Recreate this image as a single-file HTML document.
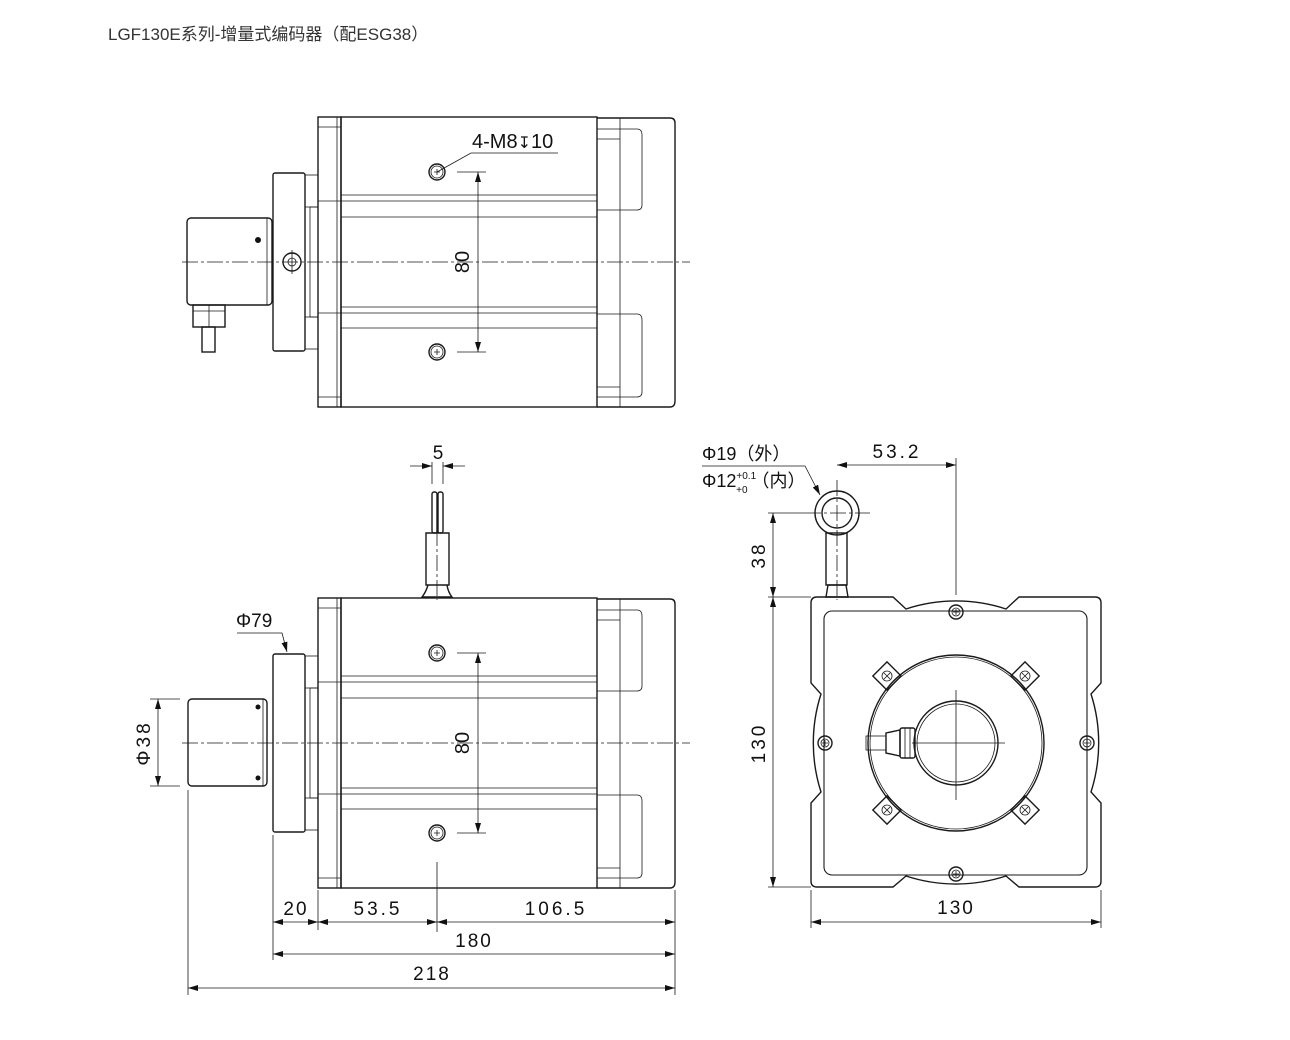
<!DOCTYPE html>
<html><head><meta charset="utf-8"><style>
body{margin:0;background:#fff}
svg{display:block}
text{font-family:"Liberation Sans","Noto Sans CJK SC",sans-serif;fill:#111}
.o{fill:none;stroke:#1a1a1a;stroke-width:1.4}
.t{fill:none;stroke:#1a1a1a;stroke-width:0.8}
.c{fill:none;stroke:#1a1a1a;stroke-width:0.8;stroke-dasharray:16 3 3 3}
</style></head><body>
<svg width="1290" height="1040" viewBox="0 0 1290 1040" xmlns="http://www.w3.org/2000/svg">
<defs>
<marker id="a" viewBox="0 0 10 6" refX="10" refY="3" markerWidth="10" markerHeight="6" orient="auto-start-reverse" markerUnits="userSpaceOnUse"><path d="M0,0 L10,3 L0,6 z" fill="#111"/></marker>
<g id="bolt"><circle class="o" cx="0" cy="0" r="7"/><circle class="t" cx="0" cy="0" r="4"/><path class="t" d="M-3,0h6M0,-3v6"/></g>
<g id="tab"><rect class="o" x="-10" y="-10" width="20" height="20" transform="rotate(45)"/><circle class="t" r="5"/><path class="t" d="M-3,-3l6,6M3,-3l-6,6"/></g>
<g id="body">
 <rect class="o" x="318" y="0" width="23" height="290"/>
 <line class="t" x1="337" y1="0" x2="337" y2="290"/>
 <line class="t" x1="318" y1="10" x2="341" y2="10"/><line class="t" x1="318" y1="280" x2="341" y2="280"/>
 <line class="t" x1="318" y1="84" x2="341" y2="84"/><line class="t" x1="318" y1="196" x2="341" y2="196"/>
 <rect class="o" x="341" y="0" width="256" height="290"/>
 <line class="t" x1="341" y1="78" x2="597" y2="78"/><line class="t" x1="341" y1="84" x2="597" y2="84"/>
 <line class="t" x1="341" y1="100" x2="597" y2="100"/>
 <line class="t" x1="341" y1="190" x2="597" y2="190"/><line class="t" x1="341" y1="196" x2="597" y2="196"/>
 <line class="t" x1="341" y1="211" x2="597" y2="211"/>
 <path class="o" d="M597,1 L670,1 Q675,1 675,6 L675,284 Q675,290 670,290 L597,290"/>
 <line class="t" x1="620" y1="1" x2="620" y2="290"/>
 <path class="t" d="M597,12 L637,12 Q642,12 642,18 L642,88 Q642,93 637,93 L597,93"/>
 <path class="t" d="M597,197 L637,197 Q642,197 642,203 L642,275 Q642,280 637,280 L597,280"/>
 <line class="t" x1="597" y1="22" x2="620" y2="22"/><line class="t" x1="597" y1="270" x2="620" y2="270"/>
 <rect class="o" x="273" y="56" width="32" height="178" rx="2"/>
 <rect class="t" x="305" y="58" width="13" height="32"/>
 <rect class="t" x="305" y="200" width="13" height="32"/>
 <rect class="t" x="310" y="90" width="8" height="110"/>
 <circle class="o" cx="437" cy="55" r="8"/><circle class="t" cx="437" cy="55" r="6"/>
 <circle class="o" cx="437" cy="235" r="8"/><circle class="t" cx="437" cy="235" r="6"/>
 <path class="t" d="M434,55h6M437,52v6M434,235h6M437,232v6"/>
 <line class="t" x1="457" y1="55" x2="486" y2="55"/><line class="t" x1="457" y1="235" x2="486" y2="235"/>
 <line class="t" x1="478" y1="55" x2="478" y2="235" marker-start="url(#a)" marker-end="url(#a)"/>
 <text x="0" y="0" font-size="20" text-anchor="middle" transform="translate(469,145) rotate(-90)">80</text>
</g>
</defs>

<text x="108" y="40" font-size="17" style="fill:#333">LGF130E系列-增量式编码器（配ESG38）</text>

<use href="#body" transform="translate(0,117)"/>
<rect class="o" x="187" y="218" width="85" height="87" rx="4"/>
<line class="t" x1="267" y1="218" x2="267" y2="305"/>
<circle cx="258" cy="240" r="3" fill="#111"/>
<rect class="o" x="193" y="305" width="32" height="22"/>
<line class="t" x1="193" y1="311" x2="225" y2="311"/><line class="t" x1="209" y1="305" x2="209" y2="327"/>
<rect class="o" x="202" y="327" width="13" height="25"/>
<circle class="o" cx="292" cy="262" r="9"/><circle class="t" cx="292" cy="262" r="4"/>
<line class="t" x1="292" y1="250" x2="292" y2="274"/>
<line class="c" x1="182" y1="262" x2="690" y2="262"/>
<text x="472" y="148" font-size="20">4-M8<tspan font-size="16">↧</tspan>10</text>
<polyline class="t" points="437,172 471,153 558,153"/>

<use href="#body" transform="translate(0,598)"/>
<rect class="o" x="188" y="699" width="79" height="87" rx="4"/>
<line class="t" x1="263" y1="699" x2="263" y2="786"/>
<circle cx="258" cy="707" r="2.5" fill="#111"/><circle cx="258" cy="778" r="2.5" fill="#111"/>
<line class="c" x1="182" y1="743" x2="690" y2="743"/>
<path class="o" d="M426,533 L449,533 L449,585 L426,585 Z"/>
<path class="o" d="M428,585 Q426,592 422,597 L452,597 Q448,592 447,585"/>
<rect class="o" x="432" y="492" width="5" height="41" rx="2"/>
<rect class="o" x="438" y="492" width="5" height="41" rx="2"/>
<line class="c" x1="437" y1="530" x2="437" y2="600"/>
<line class="t" x1="432" y1="462" x2="432" y2="484"/><line class="t" x1="443" y1="462" x2="443" y2="484"/>
<line class="t" x1="410" y1="466" x2="432" y2="466" marker-end="url(#a)"/>
<line class="t" x1="465" y1="466" x2="443" y2="466" marker-end="url(#a)"/>
<text x="438" y="459" font-size="19" text-anchor="middle">5</text>
<text x="236" y="627" font-size="19">Φ79</text>
<polyline class="t" points="237,633 282,633 287,652" marker-end="url(#a)"/>
<line class="t" x1="150" y1="699" x2="180" y2="699"/><line class="t" x1="150" y1="786" x2="180" y2="786"/>
<line class="t" x1="158" y1="699" x2="158" y2="786" marker-start="url(#a)" marker-end="url(#a)"/>
<text font-size="19" text-anchor="middle" letter-spacing="3" transform="translate(150,743) rotate(-90)">Φ38</text>
<path class="t" d="M188,790V995M273,835V960M318,890V930M437,862V932M675,890V995"/>
<line class="t" x1="273" y1="922" x2="318" y2="922" marker-start="url(#a)" marker-end="url(#a)"/>
<line class="t" x1="318" y1="922" x2="437" y2="922" marker-start="url(#a)" marker-end="url(#a)"/>
<line class="t" x1="437" y1="922" x2="675" y2="922" marker-start="url(#a)" marker-end="url(#a)"/>
<line class="t" x1="273" y1="954" x2="675" y2="954" marker-start="url(#a)" marker-end="url(#a)"/>
<line class="t" x1="188" y1="988" x2="675" y2="988" marker-start="url(#a)" marker-end="url(#a)"/>
<text x="296" y="915" font-size="19" text-anchor="middle" letter-spacing="2">20</text>
<text x="378" y="915" font-size="19" text-anchor="middle" letter-spacing="3">53.5</text>
<text x="556" y="915" font-size="19" text-anchor="middle" letter-spacing="3">106.5</text>
<text x="474" y="947" font-size="19" text-anchor="middle" letter-spacing="2">180</text>
<text x="432" y="980" font-size="19" text-anchor="middle" letter-spacing="2">218</text>

<path class="o" d="M817,597 L893,597 L906,609 A160,160 0 0 1 1006,609 L1019,597 L1095,597 Q1101,597 1101,603 L1101,683 L1091,694 A160,160 0 0 1 1091,792 L1101,803 L1101,881 Q1101,887 1095,887 L1019,887 L1006,876 A160,160 0 0 1 906,876 L893,887 L817,887 Q811,887 811,881 L811,803 L821,792 A160,160 0 0 1 821,694 L811,683 L811,603 Q811,597 817,597 Z"/>
<rect class="t" x="824" y="611" width="263" height="264" rx="8" style="stroke-width:1.1"/>
<circle class="o" cx="956" cy="743" r="88"/><circle class="t" cx="956" cy="743" r="86"/>
<circle class="o" cx="956" cy="743" r="42"/><circle class="t" cx="956" cy="743" r="39"/>
<path class="t" d="M956,690V800M912,743H1005"/>
<use href="#bolt" x="956" y="612"/><use href="#bolt" x="956" y="874"/>
<use href="#bolt" x="825" y="743"/><use href="#bolt" x="1087" y="743"/>
<use href="#tab" x="887" y="676"/><use href="#tab" x="1025" y="676"/>
<use href="#tab" x="887" y="810"/><use href="#tab" x="1025" y="810"/>
<rect class="t" x="866" y="736" width="20" height="14"/>
<path class="o" d="M886,733 L900,730 L900,756 L886,753 Z"/>
<rect class="o" x="900" y="728" width="15" height="30" rx="2"/>
<path class="t" d="M905,728V758M910,728V758"/>
<circle class="o" cx="837" cy="513" r="22"/><circle class="o" cx="837" cy="513" r="15"/>
<rect class="o" x="826" y="533" width="21" height="52"/>
<path class="o" d="M828,585 L846,585 L848,597 L826,597 Z"/>
<line class="c" x1="837" y1="480" x2="837" y2="600"/>
<line class="c" x1="805" y1="513" x2="870" y2="513"/>
<line class="t" x1="956" y1="458" x2="956" y2="595"/>
<line class="t" x1="837" y1="465" x2="956" y2="465" marker-start="url(#a)" marker-end="url(#a)"/>
<text x="897" y="458" font-size="19" text-anchor="middle" letter-spacing="3">53.2</text>
<line class="t" x1="768" y1="513" x2="805" y2="513"/><line class="t" x1="768" y1="597" x2="811" y2="597"/>
<line class="t" x1="768" y1="887" x2="811" y2="887"/>
<line class="t" x1="773" y1="513" x2="773" y2="597" marker-start="url(#a)" marker-end="url(#a)"/>
<line class="t" x1="773" y1="597" x2="773" y2="887" marker-start="url(#a)" marker-end="url(#a)"/>
<text font-size="19" text-anchor="middle" letter-spacing="3" transform="translate(765,555) rotate(-90)">38</text>
<text font-size="19" text-anchor="middle" letter-spacing="3" transform="translate(765,743) rotate(-90)">130</text>
<line class="t" x1="811" y1="890" x2="811" y2="928"/><line class="t" x1="1101" y1="890" x2="1101" y2="928"/>
<line class="t" x1="811" y1="922" x2="1101" y2="922" marker-start="url(#a)" marker-end="url(#a)"/>
<text x="956" y="914" font-size="19" text-anchor="middle" letter-spacing="2">130</text>
<text x="702" y="460" font-size="18">Φ19（外）</text>
<polyline class="t" points="702,466 805,466 820,495" marker-end="url(#a)"/>
<text x="702" y="487" font-size="18">Φ12<tspan font-size="10" dy="-8">+0.1</tspan><tspan font-size="10" dx="-20" dy="14">+0</tspan><tspan dy="-6" dx="4">（内）</tspan></text>
</svg>
</body></html>
